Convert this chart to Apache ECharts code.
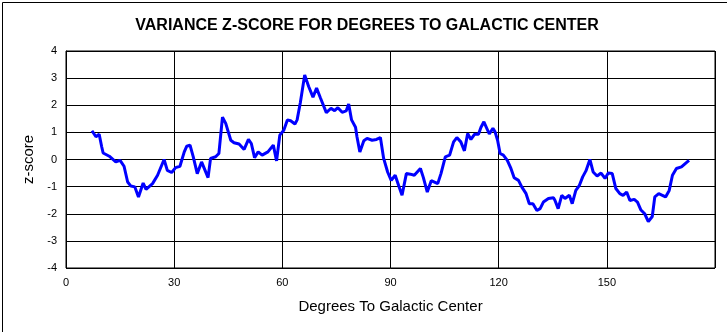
<!DOCTYPE html>
<html>
<head>
<meta charset="utf-8">
<script src="https://cdn.jsdelivr.net/npm/echarts@6/dist/echarts.min.js"></script>
<style>
html,body{margin:0;padding:0;background:#fff;}
#chart{width:727px;height:332px;}
</style>
</head>
<body>
<div id="chart"></div>
<script>
const titleText = 'VARIANCE Z-SCORE FOR DEGREES TO GALACTIC CENTER';
const xAxisName = 'Degrees To Galactic Center';
const yAxisName = 'z-score';
const xTicks = [0, 30, 60, 90, 120, 150];
const yTicks = [-4, -3, -2, -1, 0, 1, 2, 3, 4];

const degrees = [
  7.2, 8.3, 9.2, 9.9, 10.3, 12.0, 13.8, 15.0, 16.1, 17.1, 18.0, 19.1, 20.1, 21.4, 22.2, 24.0, 25.4, 27.2, 28.1, 29.3,
  30.4, 31.6, 32.8, 33.5, 34.4, 35.3, 36.4, 37.6, 39.4, 40.1, 41.5, 42.4, 43.4, 44.3, 45.7, 46.6, 48.0, 49.4, 50.6, 51.4,
  52.3, 53.3, 54.4, 56.0, 57.5, 58.4, 59.3, 60.4, 61.4, 62.3, 63.5, 64.1, 65.0, 66.2, 67.3, 68.5, 69.5, 70.6, 72.2, 73.5,
  74.5, 75.4, 76.6, 77.7, 78.4, 79.2, 80.3, 80.7, 81.5, 82.6, 83.5, 84.9, 86.1, 87.2, 88.1, 89.2, 90.2, 91.3, 92.4, 93.2,
  94.4, 95.5, 96.6, 98.3, 99.1, 100.2, 101.3, 103.1, 104.0, 105.2, 106.4, 107.5, 108.4, 109.5, 110.5, 111.4, 112.3, 113.3, 114.4, 115.1,
  115.9, 116.4, 117.4, 118.4, 119.0, 119.7, 120.4, 121.3, 122.4, 123.4, 124.3, 125.5, 126.4, 127.6, 128.5, 129.5, 130.6, 131.5, 132.4, 133.8,
  135.2, 135.6, 136.5, 137.5, 138.4, 139.6, 140.4, 141.4, 142.4, 143.3, 144.2, 145.3, 146.2, 147.3, 148.4, 149.5, 150.4, 151.5, 152.5, 153.6,
  154.5, 155.5, 156.4, 157.6, 158.5, 159.4, 160.5, 161.5, 162.6, 163.3, 164.4, 165.4, 166.3, 167.3, 168.2, 169.3, 170.7, 171.9, 172.8
];
const zScores = [
  1.06, 0.84, 0.93, 0.47, 0.24, 0.12, -0.09, -0.03, -0.25, -0.83, -0.98, -1.01, -1.38, -0.87, -1.10, -0.89, -0.58, 0.00, -0.40, -0.48,
  -0.30, -0.25, 0.28, 0.49, 0.53, 0.10, -0.52, -0.09, -0.67, 0.04, 0.10, 0.22, 1.56, 1.33, 0.71, 0.62, 0.57, 0.37, 0.74, 0.59,
  0.07, 0.28, 0.16, 0.28, 0.53, -0.05, 0.90, 1.08, 1.46, 1.43, 1.31, 1.46, 2.10, 3.12, 2.69, 2.30, 2.63, 2.26, 1.73, 1.89,
  1.80, 1.91, 1.74, 1.79, 2.05, 1.46, 1.19, 0.84, 0.28, 0.69, 0.78, 0.71, 0.74, 0.81, 0.04, -0.46, -0.77, -0.58, -1.01, -1.32,
  -0.52, -0.54, -0.58, -0.33, -0.66, -1.20, -0.78, -0.89, -0.52, 0.10, 0.16, 0.65, 0.81, 0.65, 0.32, 0.96, 0.74, 0.93, 0.93, 1.19,
  1.39, 1.35, 0.94, 1.15, 1.02, 0.71, 0.22, 0.16, -0.03, -0.33, -0.67, -0.77, -1.01, -1.26, -1.63, -1.63, -1.88, -1.81, -1.57, -1.44,
  -1.41, -1.50, -1.81, -1.32, -1.44, -1.32, -1.63, -1.14, -0.95, -0.64, -0.42, 0.00, -0.46, -0.61, -0.50, -0.70, -0.50, -0.52, -1.07, -1.26,
  -1.32, -1.20, -1.51, -1.47, -1.57, -1.85, -2.00, -2.29, -2.10, -1.38, -1.26, -1.32, -1.38, -1.14, -0.58, -0.33, -0.27, -0.13, -0.03
];

const FONT = 'Liberation Sans, Arial, sans-serif';
const seriesData = degrees.map((d, i) => [d, zScores[i]]);

const chart = echarts.init(document.getElementById('chart'), null, {renderer: 'canvas'});
chart.setOption({
  animation: false,
  backgroundColor: '#fff',
  graphic: [
    {type: 'rect', left: 0, top: 0, z: 100, silent: true,
     shape: {x: 0.5, y: 0.5, width: 725, height: 330},
     style: {fill: null, stroke: '#000', lineWidth: 1}},
    {type: 'text', z: 100, silent: true,
     style: {text: titleText, x: 367, y: 26, textAlign: 'center', textVerticalAlign: 'middle',
       font: 'bold 16px ' + FONT, fill: '#000'}}
  ],
  grid: {
    left: 66, top: 51, width: 649, height: 217,
    show: true, borderColor: '#000', borderWidth: 1, backgroundColor: '#fff'
  },
  xAxis: {
    type: 'value', min: 0, max: 180, interval: 30,
    name: xAxisName, nameLocation: 'middle', nameGap: 31,
    nameTextStyle: {fontFamily: FONT, fontSize: 15, color: '#000'},
    axisLine: {show: true, lineStyle: {color: '#000', width: 1}},
    axisTick: {show: false},
    axisLabel: {fontFamily: FONT, fontSize: 11, color: '#000', margin: 9,
      formatter: v => (xTicks.indexOf(v) >= 0 ? String(v) : '')},
    splitLine: {show: true, lineStyle: {color: '#000', width: 1}}
  },
  yAxis: {
    type: 'value', min: -4, max: 4, interval: 1, offset: 2,
    name: yAxisName, nameLocation: 'middle', nameGap: 26, nameRotate: 90,
    nameTextStyle: {fontFamily: FONT, fontSize: 15, color: '#000'},
    axisLine: {show: true, lineStyle: {color: '#000', width: 1}},
    axisTick: {show: false},
    axisLabel: {fontFamily: FONT, fontSize: 11, color: '#000', margin: 7,
      formatter: v => (yTicks.indexOf(v) >= 0 ? String(v) : '')},
    splitLine: {show: true, lineStyle: {color: '#000', width: 1}}
  },
  series: [{
    type: 'line',
    data: seriesData,
    showSymbol: false,
    smooth: false,
    lineStyle: {color: '#0000ff', width: 3},
    itemStyle: {color: '#0000ff'}
  }]
});
</script>
</body>
</html>
